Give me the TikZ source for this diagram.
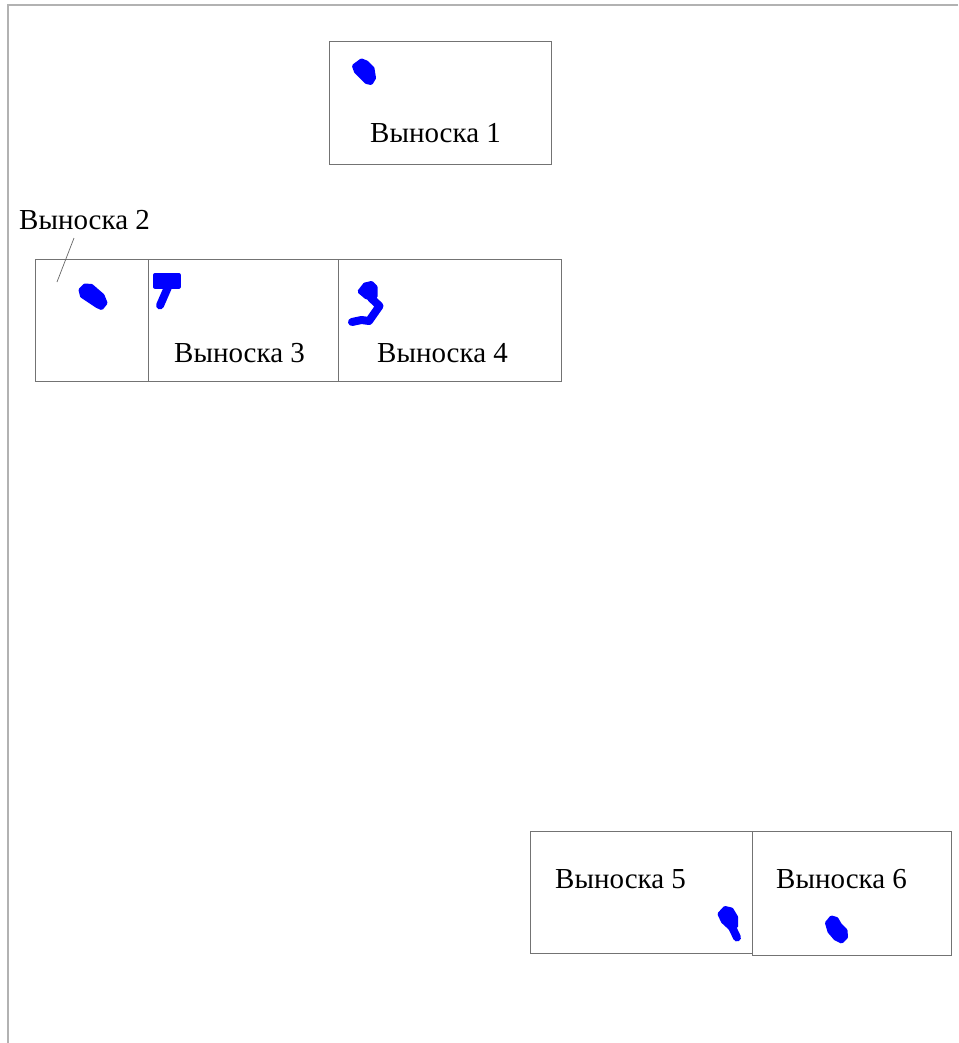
\documentclass[tikz,border=0pt]{standalone}
\usepackage{fontspec}
\setmainfont{Liberation Serif}
\begin{document}
\begin{tikzpicture}[x=1pt,y=-1pt,
  box/.style={draw=black!55, line width=0.9pt, fill=none, inner sep=0pt},
  lbl/.style={inner sep=0pt, anchor=base west, font=\fontsize{29}{32}\selectfont, text=black},
  frameline/.style={draw=black!30, line width=2pt},
  leader/.style={draw=black!60, line width=0.7pt},
  blob/.style={draw=blue, line cap=round, line join=round},
  patch/.style={fill=blue, draw=blue, line width=4pt, line join=round}]
\useasboundingbox (0,0) rectangle (958,1043);
\fill[white] (0,0) rectangle (958,1043);
% frame
\draw[frameline] (958,5) -- (8,5) -- (8,1043);
% boxes
\node[box, minimum width=222pt, minimum height=123pt] (b1) at (440,102.5) {};
\node[box, minimum width=113pt, minimum height=122pt] (b2) at (91.5,320) {};
\node[box, minimum width=190pt, minimum height=122pt] (b3) at (243,320) {};
\node[box, minimum width=223pt, minimum height=122pt] (b4) at (449.5,320) {};
\node[box, minimum width=222pt, minimum height=122pt] (b5) at (641,892) {};
\node[box, minimum width=199pt, minimum height=124pt] (b6) at (851.5,893) {};
% labels
\node[lbl] (t1) at (370,143) {Выноска 1};
\node[lbl] (t2) at (19,229) {Выноска 2};
\node[lbl] (t3) at (174,362) {Выноска 3};
\node[lbl] (t4) at (377,362) {Выноска 4};
\node[lbl] (t5) at (555,888) {Выноска 5};
\node[lbl] (t6) at (776,888) {Выноска 6};
% leader of label 2
\coordinate (l2a) at (74,238);
\coordinate (l2b) at (57,282);
\draw[leader] (l2a) -- (l2b);
% blue marks
\path[patch] (354,66) -- (361.5,60.5) -- (366.5,62.5) -- (372.5,68.5) -- (374,78) -- (371,83) -- (366.5,82) -- (356,71.5) -- cycle;
\path[patch] (80.5,290) -- (85,285.5) -- (91.5,286) -- (102.5,295.5) -- (105.5,303) -- (101.5,308) -- (97,306) -- (82,296) -- cycle;
\path[patch] (155,275) -- (178.5,275) -- (178.5,286.5) -- (155,286.5) -- cycle;
\draw[blob, line width=8pt] (168.5,286) -- (160,305.5);
\path[patch] (359.5,291.5) -- (365,284.5) -- (371.5,283) -- (375.5,287) -- (375.5,296.5) -- (372,299) -- (366,297) -- cycle;
\draw[blob, line width=8pt] (371,298) -- (379.5,306) -- (369,321) -- (361.5,320) -- (352,322);
\path[patch] (719.5,914) -- (725,908) -- (731.5,909.5) -- (736,917) -- (736,926.5) -- (730,928) -- (723,921.5) -- cycle;
\draw[blob, line width=8pt] (732,927) -- (737,937.5);
\path[patch] (827,923) -- (831.5,917.5) -- (836.5,919) -- (840,925) -- (845.5,930.5) -- (846,937) -- (841.5,941.5) -- (835.5,938.5) -- (829.5,931.5) -- cycle;
\end{tikzpicture}
\end{document}
